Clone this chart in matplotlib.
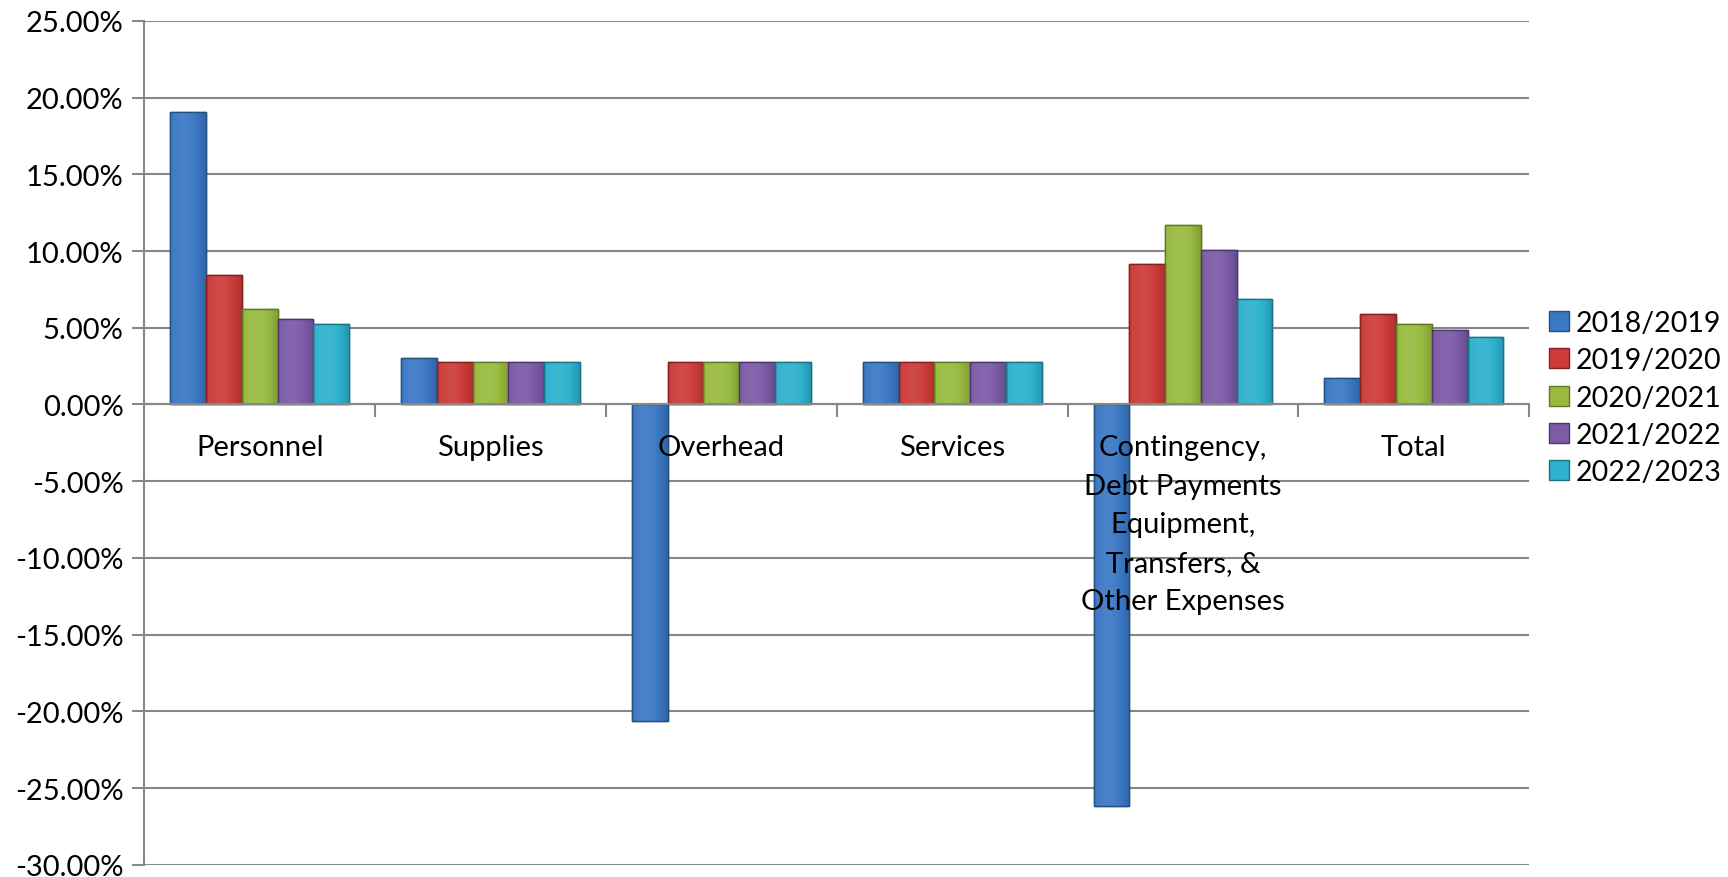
import matplotlib
matplotlib.use("Agg")
import matplotlib.pyplot as plt
import numpy as np
from matplotlib.ticker import FuncFormatter, FixedLocator
from matplotlib.colors import to_rgb

categories = ["Personnel", "Supplies", "Overhead", "Services",
              "Contingency,\nDebt Payments\nEquipment,\nTransfers, &\nOther Expenses", "Total"]
series_names = ["2018/2019", "2019/2020", "2020/2021", "2021/2022", "2022/2023"]
v2018 = [19.08, 3.00, -20.6, 2.80, -26.2, 1.72]
v2019 = [8.47, 2.80, 2.80, 2.80, 9.18, 5.88]
v2020 = [6.24, 2.80, 2.80, 2.80, 11.7, 5.24]
v2021 = [5.60, 2.80, 2.80, 2.80, 10.1, 4.88]
v2022 = [5.24, 2.80, 2.80, 2.80, 6.90, 4.38]
series = [v2018, v2019, v2020, v2021, v2022]
colors = ["#3B78C4", "#CC3B38", "#98BB3F", "#7C5BA7", "#2EB1CD"]
edges = ["#24507F", "#842220", "#5E7A22", "#4D3670", "#1A7487"]

plt.rcParams['font.family'] = ['Lato', 'DejaVu Sans']
fig = plt.figure(figsize=(17.28, 8.78), dpi=100)
ax = fig.add_axes([0.0835, 0.014, 0.8015, 0.961])

n = len(series)
bw = 0.155
x = np.arange(len(categories))


def shade(c, f):
    r = np.array(to_rgb(c))
    if f >= 0:
        return r + (1 - r) * f
    return r * (1 + f)


for i, (vals, c, e) in enumerate(zip(series, colors, edges)):
    off = (i - (n - 1) / 2) * bw
    bars = ax.bar(x + off, vals, width=bw, color=c, edgecolor=e, linewidth=1.0,
                  label=series_names[i], zorder=3)
    # horizontal gradient for a bevelled look
    t = np.linspace(0, 1, 64)
    prof = 0.14 * np.sin(np.pi * t) - 0.15 * t
    grad = np.array([[shade(c, f) for f in prof]])
    for b in bars:
        x0, y0 = b.get_x(), b.get_y()
        w, h = b.get_width(), b.get_height()
        im = ax.imshow(grad, extent=[x0, x0 + w, min(y0, y0 + h), max(y0, y0 + h)],
                       aspect='auto', zorder=3.1, interpolation='bilinear')
        im.set_clip_path(b)
        ax.bar(x0 + w / 2, h, bottom=y0, width=w, color='none', edgecolor=e,
               linewidth=1.0, zorder=3.2)

ax.set_xlim(-0.5, len(categories) - 0.5)
ax.set_ylim(-30, 25)
ax.set_yticks(np.arange(-30, 26, 5))
ax.yaxis.set_major_formatter(FuncFormatter(lambda v, p: f"{v:.2f}%"))
ax.grid(axis='y', color='#878787', linewidth=1.5, zorder=0)
for s in ['top', 'right']:
    ax.spines[s].set_visible(False)
ax.spines['left'].set_color('#878787')
ax.spines['left'].set_linewidth(1.5)
ax.spines['bottom'].set_position(('data', 0))
ax.spines['bottom'].set_color('#878787')
ax.spines['bottom'].set_linewidth(1.5)
ax.spines['bottom'].set_zorder(4)
ax.xaxis.set_major_locator(FixedLocator(np.arange(0.5, len(categories), 1.0)))
ax.tick_params(axis='x', direction='out', length=9, width=1.5, color='#878787', labelbottom=False)
ax.tick_params(axis='y', direction='out', length=9, width=1.5, color='#878787', labelsize=21, pad=6)

for xi, lab in zip(x, categories):
    ax.text(xi, -1.95, lab, ha='center', va='top', fontsize=21, linespacing=1.59, zorder=5)

fig.legend(loc='center left', bbox_to_anchor=(0.893, 0.546), frameon=False,
           fontsize=20.5, handlelength=0.7, handleheight=0.7, labelspacing=0.4,
           handletextpad=0.25, borderaxespad=0, borderpad=0.2)

fig.savefig("out.png", dpi=100)
